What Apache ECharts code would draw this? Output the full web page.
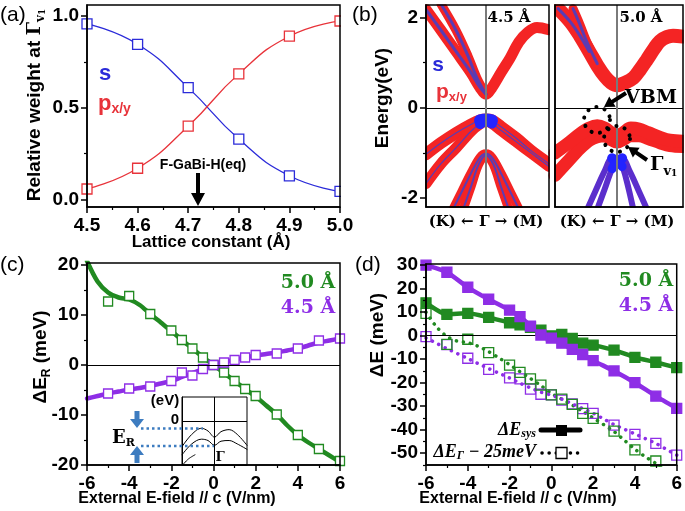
<!DOCTYPE html>
<html><head><meta charset="utf-8">
<script src="https://cdn.jsdelivr.net/npm/echarts/dist/echarts.min.js"></script>
<style>html,body{margin:0;padding:0;background:#fff}#c{width:685px;height:511px}</style>
</head><body><div id="c"></div>
<script>
// ---------- Panel (a) ----------
const latticeA = [4.5, 4.6, 4.7, 4.8, 4.9, 5.0];
const sWeight  = [0.957, 0.846, 0.61, 0.33, 0.13, 0.045];
const pWeight  = [0.058, 0.171, 0.40, 0.685, 0.89, 0.973];
const aXTicks = [4.5, 4.6, 4.7, 4.8, 4.9, 5.0];
const aXMinor = [4.55, 4.65, 4.75, 4.85, 4.95];
const aYTicks = [0, 0.5, 1.0];
const aYMinor = [0.25, 0.75];

// ---------- Panel (b) band structures (k: K<-Γ->M, Γ=0) ----------
const cb45a_k = [-1.0, -0.75, -0.5, -0.25, -0.1, 0, 0.1, 0.25, 0.4, 0.55, 0.7, 0.85, 1.05];
const cb45a_E = [2.18, 1.72, 1.25, 0.78, 0.45, 0.3, 0.45, 0.78, 1.1, 1.46, 1.68, 1.78, 1.73];
const cb45b_k = [-0.75, -0.5, -0.3, -0.15, 0];
const cb45b_E = [2.3, 1.72, 1.15, 0.66, 0.3];
const vb45a_k = [-1, -0.75, -0.5, -0.25, -0.1, 0, 0.1, 0.25, 0.5, 0.75, 1.05];
const vb45a_E = [-1.03, -0.78, -0.56, -0.37, -0.28, -0.26, -0.28, -0.42, -0.67, -0.95, -1.24];
const vb45b_k = [-1, -0.75, -0.5, -0.25, -0.1, 0, 0.1, 0.25, 0.5, 0.75, 1.05];
const vb45b_E = [-1.68, -1.24, -0.89, -0.52, -0.36, -0.3, -0.35, -0.5, -0.75, -1.0, -1.3];
const lb45a_k = [-0.55, -0.4, -0.25, -0.1, 0, 0.1, 0.25, 0.4, 0.55];
const lb45a_E = [-2.25, -1.85, -1.45, -1.1, -1.02, -1.1, -1.45, -1.85, -2.25];
const lb45b_k = [-0.38, -0.25, -0.12, 0, 0.12, 0.25, 0.38];
const lb45b_E = [-2.25, -1.75, -1.25, -1.05, -1.25, -1.75, -2.25];

const cb50a_k = [-0.95, -0.75, -0.6, -0.45, -0.32, -0.2, -0.1, 0, 0.12, 0.26, 0.37, 0.48, 0.6, 0.69, 0.8, 0.9, 1.06];
const cb50a_E = [2.2, 1.9, 1.6, 1.25, 0.94, 0.7, 0.56, 0.5, 0.55, 0.66, 0.85, 1.07, 1.32, 1.48, 1.57, 1.6, 1.58];
const cb50b_k = [-0.71, -0.6, -0.5, -0.4, -0.32];
const cb50b_E = [2.2, 1.85, 1.5, 1.2, 0.98];
const vb50a_k = [-1, -0.8, -0.6, -0.45, -0.32, -0.2, -0.1, 0, 0.1, 0.22, 0.35, 0.5, 0.7, 0.85, 1.06];
const vb50a_E = [-1.0, -0.8, -0.58, -0.45, -0.4, -0.45, -0.55, -0.62, -0.55, -0.45, -0.47, -0.55, -0.66, -0.72, -0.74];
const vb50b_k = [-1, -0.8, -0.6, -0.45, -0.32, -0.2, -0.1, 0, 0.1, 0.22, 0.35, 0.5, 0.7, 0.85, 1.06];
const vb50b_E = [-1.5, -1.2, -0.9, -0.72, -0.64, -0.62, -0.7, -0.76, -0.7, -0.62, -0.62, -0.68, -0.78, -0.84, -0.86];
const lb50a_k = [-0.48, -0.35, -0.2, -0.08, 0, 0.08, 0.2, 0.35, 0.48];
const lb50a_E = [-2.25, -1.85, -1.4, -1.12, -1.16, -1.12, -1.4, -1.85, -2.25];
const lb50b_k = [-0.32, -0.2, -0.08, 0, 0.08, 0.15, 0.26];
const lb50b_E = [-2.25, -1.8, -1.35, -1.2, -1.3, -1.6, -2.25];
const bYTicks = [-2, 0, 2];
const bYMinor = [-1, 1];

// ---------- Panel (c) ----------
const fieldC = [-5, -4, -3, -2, -1.5, -1, -0.5, 0, 0.5, 1, 1.5, 2, 3, 4, 5, 6];
const dER50  = [12.7, 13.8, 10.2, 6.9, 5.0, 3.3, 1.5, 0, -1.5, -3.2, -4.8, -6.2, -9.9, -14.0, -16.8, -19.2];
const dER45  = [-5.7, -4.7, -4.3, -3.2, -1.5, -2.1, -0.8, 0, 0.5, 1.0, 1.5, 2.0, 2.3, 3.3, 4.9, 5.3];
const fitFieldC = [-6, -5.5, -5, -4.5, -4, -3.5, -3, -2.5, -2, -1.5, -1, -0.5, 0, 0.5, 1, 1.5, 2, 2.5, 3, 3.5, 4, 4.5, 5, 5.5, 6];
const fitER50 = [20.8, 16.7, 14.5, 13.5, 13.1, 12.0, 10.2, 8.5, 6.8, 5.0, 3.3, 1.6, 0, -1.6, -3.2, -4.8, -6.3, -8.1, -9.9, -12.1, -14.0, -15.5, -16.8, -18.1, -19.4];
const fitER45 = [-6.7, -6.2, -5.7, -5.3, -4.9, -4.6, -4.2, -3.7, -3.2, -2.4, -1.6, -0.8, 0, 0.55, 1.1, 1.5, 1.9, 2.2, 2.5, 2.9, 3.3, 3.9, 4.5, 4.9, 5.3];
const cdXTicks = [-6, -4, -2, 0, 2, 4, 6];
const cdXMinor = [-5, -3, -1, 1, 3, 5];
const cYTicks = [-20, -10, 0, 10, 20];
const cYMinor = [-15, -5, 5, 15];
// inset of (c)
const insK  = [-1, -0.7, -0.4, -0.2, 0, 0.2, 0.45, 0.7, 1];
const insE1 = [-0.38, -0.2, -0.11, -0.15, -0.24, -0.16, -0.13, -0.2, -0.36];
const insE2 = [-0.5, -0.34, -0.27, -0.29, -0.36, -0.3, -0.29, -0.34, -0.42];
const insK3 = [-1, -0.8, -0.6];
const insE3 = [-0.66, -0.56, -0.5];

// ---------- Panel (d) ----------
const fieldD = [-6, -5, -4, -3, -2, -1.5, -1, -0.5, 0, 0.5, 1, 1.5, 2, 3, 4, 5, 6];
const sys45 = [30, 27, 20.6, 15.5, 10.9, 8.1, 4.1, 0.3, -1.0, -3.2, -5.8, -8.0, -10.6, -15.0, -20.0, -25.7, -30.9];
const sys50 = [14, 9.1, 9.5, 7.8, 5.5, 4.6, 3.6, 2.4, -0.1, 0.6, -1.1, -3.2, -4.0, -6.1, -9.2, -11.3, -13.6];
const gam50 = [9.5, -3.7, -1.5, -7.2, -12.5, -15.6, -18.4, -21, -25.2, -27, -29.2, -33, -35.2, -40.6, -48.6, -53.3, -58];
const gam45 = [-0.4, -3.8, -9.6, -14.3, -17.9, -18.4, -22.7, -24.9, -25.2, -27.4, -29, -31, -33, -38, -42, -45.8, -50.8];
const fitFieldD = [-6, -5.5, -5, -4.5, -4, -3.5, -3, -2.5, -2, -1.5, -1, -0.5, 0, 0.5, 1, 1.5, 2, 2.5, 3, 3.5, 4, 4.5, 5, 5.5, 6];
const gamFit50 = [10, 3.8, -0.3, -2.3, -3.0, -4.5, -6.8, -9.5, -12.3, -15.3, -18.2, -21.2, -24.5, -27, -29.5, -32.2, -35, -37.8, -40.8, -44.5, -48.3, -51.5, -54.3, -57.5, -61];
const gamFit45 = [-1, -3.2, -5.5, -7.6, -9.7, -11.9, -14.0, -16.0, -18.0, -20.2, -22.2, -24, -25.3, -27, -29, -31, -33, -35.4, -37.8, -39.8, -41.8, -43.8, -45.8, -48.3, -50.8];
const dYTicks = [-50, -40, -30, -20, -10, 0, 10, 20, 30];
const dYMinor = [-55, -45, -35, -25, -15, -5, 5, 15, 25];

// ---------- colours ----------
const GREEN = '#218a21', PURPLE = '#8e2ee6', BLUE = '#2b2bd9', RED = '#e8333a';
const FAT = '#f42424', CENTER = '#5a3cb4', SBLUE = '#2323ff', LOWP = '#5b2ecc';
const SANS = 'Liberation Sans', SERIF = 'DejaVu Serif', TIMES = 'Liberation Serif';

const zip = (a, b) => a.map((v, i) => [v, b[i]]);
const sub = (ks, es, f) => zip(ks, es).filter(p => f(p[0]));

// ---------- axes ----------
const xAxes = [], yAxes = [];
const lab = (show, fmt, margin) => ({show, color:'#000', fontFamily:SANS, fontWeight:'bold', fontSize:19, formatter: fmt, margin});
function addAxes(list, gi, pos, min, max, major, showLab, fmt, margin) {
  list.push({type:'value', gridIndex:gi, position:pos, min, max, z:10,
    axisLine:{show:true, onZero:false, lineStyle:{color:'#000', width:1.5}},
    axisTick:{show: major.length>0, customValues:major, length:6, lineStyle:{color:'#000', width:1.5}},
    axisLabel:Object.assign(lab(showLab, fmt, margin===undefined?5:margin), {customValues:major}),
    splitLine:{show:false}});
}
function addMinor(list, gi, pos, min, max, minor) {
  list.push({type:'value', gridIndex:gi, position:pos, min, max, z:10,
    axisLine:{show:false, onZero:false},
    axisTick:{show:true, customValues:minor, length:3, lineStyle:{color:'#000', width:1.2}},
    axisLabel:{show:false, customValues:minor}, splitLine:{show:false}});
}
const f1 = v => v.toFixed(1);
const B_MIN = -2.2, B_MAX = 2.28;
// main axes 0..5
addAxes(xAxes, 0, 'bottom', 4.5, 5.0, aXTicks, true, f1, 9);
addAxes(yAxes, 0, 'left', -0.04, 1.06, aYTicks, true, f1, 8);
addAxes(xAxes, 1, 'bottom', -1, 1.05, [], false);
addAxes(yAxes, 1, 'left', B_MIN, B_MAX, bYTicks, true, undefined, 8);
addAxes(xAxes, 2, 'bottom', -1, 1.06, [], false);
addAxes(yAxes, 2, 'left', B_MIN, B_MAX, [], false);
addAxes(xAxes, 3, 'bottom', -6, 6, cdXTicks, true, undefined, 9);
addAxes(yAxes, 3, 'left', -20, 20.4, cYTicks, true, undefined, 8);
addAxes(xAxes, 4, 'bottom', -6, 6, cdXTicks, true, undefined, 9);
addAxes(yAxes, 4, 'left', -55, 30.5, dYTicks, true, undefined, 8);
addAxes(xAxes, 5, 'bottom', -1, 1, [], false);
addAxes(yAxes, 5, 'left', -0.65, 0.35, [], false);
xAxes[5].axisLine.lineStyle.width = 1; yAxes[5].axisLine.lineStyle.width = 1;
xAxes[5].z = 4; yAxes[5].z = 4;
// minor tick axes
addMinor(xAxes, 0, 'bottom', 4.5, 5.0, aXMinor);
addMinor(yAxes, 0, 'left', -0.04, 1.06, aYMinor);
addMinor(yAxes, 1, 'left', B_MIN, B_MAX, bYMinor);
addMinor(xAxes, 3, 'bottom', -6, 6, cdXMinor);
addMinor(yAxes, 3, 'left', -20, 20.4, cYMinor);
addMinor(xAxes, 4, 'bottom', -6, 6, cdXMinor);
addMinor(yAxes, 4, 'left', -55, 30.5, dYMinor);

// ---------- series ----------
const series = [];
function ln(gi, data, color, width, extra) {
  const s = {type:'line', xAxisIndex:gi, yAxisIndex:gi, data, showSymbol:false, symbol:'none',
    smooth:0.35, silent:true, animation:false,
    lineStyle:{color, width, cap:'round', join:'round'}};
  return Object.assign(s, extra || {});
}
function refLine(gi, mlData, color, width, z) {
  series.push({type:'line', xAxisIndex:gi, yAxisIndex:gi, data:[], symbol:'none', silent:true, animation:false, z:z||5,
    markLine:{silent:true, symbol:'none', animation:false, label:{show:false},
      lineStyle:{color, width, type:'solid'}, data: mlData}});
}
function sq(gi, data, color, fill, size, z) {
  return {type:'scatter', xAxisIndex:gi, yAxisIndex:gi, data, symbol:'rect', symbolSize:size,
    itemStyle:{color:fill, borderColor:color, borderWidth:1.3, opacity:1}, silent:true, animation:false, z:z||4};
}
// (a)
series.push(ln(0, zip(latticeA, sWeight), BLUE, 1.3, {smooth:0.5}));
series.push(ln(0, zip(latticeA, pWeight), RED, 1.3, {smooth:0.5}));
series.push(sq(0, zip(latticeA, sWeight), BLUE, '#fff', 10));
series.push(sq(0, zip(latticeA, pWeight), RED, '#fff', 10));

// (b) left 4.5 Å
series.push(ln(1, zip(cb45a_k, cb45a_E), FAT, 11));
series.push(ln(1, zip(cb45b_k, cb45b_E), FAT, 9));
series.push(ln(1, zip(vb45a_k, vb45a_E), FAT, 12));
series.push(ln(1, zip(vb45b_k, vb45b_E), FAT, 11));
series.push(ln(1, zip(lb45a_k, lb45a_E), FAT, 9));
series.push(ln(1, zip(lb45b_k, lb45b_E), FAT, 9));
series.push(ln(1, sub(cb45a_k, cb45a_E, k => k <= 0), CENTER, 3));
series.push(ln(1, zip(cb45b_k, cb45b_E), CENTER, 3));
series.push(ln(1, zip(vb45a_k, vb45a_E), CENTER, 1.2));
series.push(ln(1, zip(vb45b_k, vb45b_E), CENTER, 1.2));
series.push(ln(1, zip(lb45a_k, lb45a_E), CENTER, 2));
series.push(ln(1, zip(lb45b_k, lb45b_E), CENTER, 2));
series.push(ln(1, sub(vb45a_k, vb45a_E, k => Math.abs(k) <= 0.15), SBLUE, 12));
series.push(ln(1, sub(vb45b_k, vb45b_E, k => Math.abs(k) <= 0.12), SBLUE, 10));
// (b) right 5.0 Å
series.push(ln(2, zip(cb50a_k, cb50a_E), FAT, 14));
series.push(ln(2, zip(cb50b_k, cb50b_E), FAT, 9));
series.push(ln(2, zip(vb50b_k, vb50b_E), FAT, 13));
series.push(ln(2, zip(vb50a_k, vb50a_E), FAT, 13));
series.push(ln(2, sub(cb50a_k, cb50a_E, k => k <= -0.45), CENTER, 3));
series.push(ln(2, zip(cb50b_k, cb50b_E), CENTER, 3));
series.push(ln(2, zip(lb50a_k, lb50a_E), LOWP, 6));
series.push(ln(2, zip(lb50b_k, lb50b_E), LOWP, 6));
series.push(ln(2, sub(lb50a_k, lb50a_E, k => Math.abs(k) <= 0.09), SBLUE, 10));
series.push(ln(2, sub(lb50b_k, lb50b_E, k => k >= -0.09 && k <= 0.09), SBLUE, 9));

refLine(1, [{yAxis:0}], '#000', 1, 6);
refLine(1, [{xAxis:0}], '#7a7a7a', 2, 6);
refLine(2, [{yAxis:0}], '#000', 1, 6);
refLine(2, [{xAxis:0}], '#7a7a7a', 2, 6);

// (c)
refLine(3, [{yAxis:0}], '#000', 1, 1);
series.push(ln(3, zip(fitFieldC, fitER50), GREEN, 4.5, {smooth:0.3}));
series.push(ln(3, zip(fitFieldC, fitER45), PURPLE, 4.5, {smooth:0.3}));
series.push(sq(3, zip(fieldC, dER50), GREEN, '#fff', 9));
series.push(sq(3, zip(fieldC, dER45), PURPLE, '#fff', 9));
// inset
refLine(5, [{yAxis:0}, {xAxis:0}], '#000', 1, 6);
series.push(ln(5, zip(insK, insE1), '#000', 1, {z:5}));
series.push(ln(5, zip(insK, insE2), '#000', 1, {z:5}));
series.push(ln(5, zip(insK3, insE3), '#000', 1, {z:5}));

// (d)
refLine(4, [{yAxis:0}], '#000', 1, 1);
const dotStyle = c => ({color:c, width:3.5, type:[0.1, 7], cap:'round'});
series.push(Object.assign(ln(4, zip(fitFieldD, gamFit50), GREEN, 3.5, {smooth:0.3}), {lineStyle:dotStyle(GREEN)}));
series.push(Object.assign(ln(4, zip(fitFieldD, gamFit45), PURPLE, 3.5, {smooth:0.3}), {lineStyle:dotStyle(PURPLE)}));
series.push(sq(4, zip(fieldD, gam45), PURPLE, 'rgba(255,255,255,0)', 10));
series.push(sq(4, zip(fieldD, gam50), GREEN, 'rgba(255,255,255,0)', 10));
series.push(ln(4, zip(fieldD, sys50), GREEN, 4.5, {smooth:0.2, z:5}));
series.push(ln(4, zip(fieldD, sys45), PURPLE, 4.5, {smooth:0.2, z:5}));
series.push(sq(4, zip(fieldD, sys50), GREEN, GREEN, 10, 6));
series.push(sq(4, zip(fieldD, sys45), PURPLE, PURPLE, 10, 6));

// ---------- graphic annotations ----------
function T(x, y, text, o) {
  o = o || {};
  const st = Object.assign({text, x:0, y:0, fill:o.fill||'#000', fontFamily:o.ff||SANS, fontWeight:o.fw||'bold',
    fontSize:o.fs||17, fontStyle:o.fst||'normal', align:o.align||'center', verticalAlign:'middle',
    textAlign:o.align||'center', textVerticalAlign:'middle'}, o.rich ? {rich:o.rich} : {});
  return {type:'text', x, y, rotation:o.rot||0, style:st, z:100, silent:true};
}
const g = [];
// white masks that trim the fat bands of (b) to their frames
const mask = (x, y, w, h) => ({type:'rect', z:5, silent:true, shape:{x, y, width:w, height:h}, style:{fill:'#fff'}});
g.push(mask(341, 0, 84.2, 213));
g.push(mask(420, 0, 265, 4.2));
g.push(mask(420, 207.8, 265, 6));
g.push(mask(549.8, 0, 4.4, 213));
g.push(mask(683.8, 0, 2, 213));

g.push(T(0, 15, '(a)', {fw:'normal', fs:21, align:'left'}));
g.push(T(352, 15, '(b)', {fw:'normal', fs:21, align:'left'}));
g.push(T(0, 265, '(c)', {fw:'normal', fs:21, align:'left'}));
g.push(T(355, 265, '(d)', {fw:'normal', fs:21, align:'left'}));

const rot = Math.PI / 2;
g.push(T(35, 105, '{m|Relative weight at }{g|Γ}{s|v}{ss|1}', {rot, rich:{
  m:{fontFamily:SANS, fontWeight:'bold', fontSize:19, lineHeight:24, verticalAlign:'middle'},
  g:{fontFamily:SERIF, fontWeight:'bold', fontSize:19, lineHeight:24, verticalAlign:'middle'},
  s:{fontFamily:SERIF, fontWeight:'bold', fontSize:12, lineHeight:24, verticalAlign:'bottom'},
  ss:{fontFamily:SERIF, fontWeight:'bold', fontSize:9, lineHeight:24, verticalAlign:'bottom'}}}));
g.push(T(211, 242, 'Lattice constant (Å)', {fs:17}));
g.push(T(105, 74, 's', {fill:BLUE, fs:22}));
g.push(T(98, 104, '{p|p}{s|x/y}', {fill:RED, align:'left', rich:{
  p:{fill:RED, fontFamily:SANS, fontWeight:'bold', fontSize:22, lineHeight:24, verticalAlign:'middle'},
  s:{fill:RED, fontFamily:SANS, fontWeight:'bold', fontSize:14, lineHeight:24, verticalAlign:'bottom'}}}));
g.push(T(203, 165, 'F-GaBi-H(eq)', {fs:14}));
g.push({type:'polygon', shape:{points:[[196,173],[200,173],[200,193],[205,193],[198,206],[191,193],[196,193]]}, style:{fill:'#000'}, z:100, silent:true});

// (b)
g.push(T(383, 98, 'Energy(eV)', {rot, fs:19}));
g.push(T(509, 18, '4.5 Å', {ff:SERIF, fs:15}));
g.push(T(641, 18, '5.0 Å', {ff:SERIF, fs:15}));
g.push(T(438, 65, 's', {fill:BLUE, fs:21}));
g.push(T(436, 92, '{p|p}{s|x/y}', {align:'left', rich:{
  p:{fill:RED, fontFamily:SANS, fontWeight:'bold', fontSize:21, lineHeight:24, verticalAlign:'middle'},
  s:{fill:RED, fontFamily:SANS, fontWeight:'bold', fontSize:13, lineHeight:24, verticalAlign:'bottom'}}}));
g.push(T(486, 222, '(K) ← Γ → (M)', {ff:SERIF, fs:15}));
g.push(T(617, 222, '(K) ← Γ → (M)', {ff:SERIF, fs:15}));
g.push(T(651, 98, 'VBM', {ff:SERIF, fs:19}));
g.push(T(650, 165, '{g|Γ}{s|v}{ss|1}', {align:'left', rich:{
  g:{fontFamily:SERIF, fontWeight:'bold', fontSize:19, lineHeight:24, verticalAlign:'middle'},
  s:{fontFamily:SERIF, fontWeight:'bold', fontSize:13, lineHeight:24, verticalAlign:'bottom'},
  ss:{fontFamily:SERIF, fontWeight:'bold', fontSize:9, lineHeight:26, verticalAlign:'bottom'}}}));
function arrow(x1, y1, x2, y2, w, hw, hl, color) {
  const dx = x2 - x1, dy = y2 - y1, L = Math.hypot(dx, dy), ux = dx / L, uy = dy / L, px = -uy, py = ux;
  const bx = x2 - ux * hl, by = y2 - uy * hl;
  return {type:'polygon', z:100, silent:true, style:{fill:color}, shape:{points:[
    [x1 + px*w/2, y1 + py*w/2], [bx + px*w/2, by + py*w/2], [bx + px*hw/2, by + py*hw/2], [x2, y2],
    [bx - px*hw/2, by - py*hw/2], [bx - px*w/2, by - py*w/2], [x1 - px*w/2, y1 - py*w/2]]}};
}
g.push(arrow(626, 93, 604, 107, 4, 12, 10, '#000'));
g.push(arrow(647, 160, 628, 147, 4, 12, 10, '#000'));
const dotCircle = (cx, cy, r) => ({type:'circle', z:100, silent:true, shape:{cx, cy, r},
  style:{fill:'none', stroke:'#000', lineWidth:4, lineDash:[0.1, 8.5], lineCap:'round'}});
g.push(dotCircle(597, 120, 13));
g.push(dotCircle(617, 139, 13));

// (c)
g.push(T(41, 357, '{m|ΔE}{s|R}{m| (meV)}', {rot, rich:{
  m:{fontFamily:SANS, fontWeight:'bold', fontSize:19, lineHeight:24, verticalAlign:'middle'},
  s:{fontFamily:SANS, fontWeight:'bold', fontSize:12, lineHeight:24, verticalAlign:'bottom'}}}));
g.push(T(177, 499, 'External E-field // c (V/nm)', {fs:16}));
g.push(T(308, 283, '5.0 Å', {ff:SERIF, fs:19, fill:GREEN}));
g.push(T(308, 308, '4.5 Å', {ff:SERIF, fs:19, fill:PURPLE}));
g.push(T(165, 401, '(eV)', {fs:15}));
g.push(T(175, 420, '0', {fs:15}));
g.push(T(220, 458, 'Γ', {ff:SERIF, fs:13}));
g.push(T(112, 438, '{e|E}{s|R}', {align:'left', rich:{
  e:{fontFamily:SERIF, fontWeight:'bold', fontSize:18, lineHeight:22, verticalAlign:'middle'},
  s:{fontFamily:SERIF, fontWeight:'bold', fontSize:11, lineHeight:22, verticalAlign:'bottom'}}}));
const LB = '#3d7cc0';
g.push({type:'line', z:100, silent:true, shape:{x1:141, y1:428.5, x2:203, y2:428.5}, style:{stroke:LB, lineWidth:2.5, lineDash:[2.5, 3]}});
g.push({type:'line', z:100, silent:true, shape:{x1:141, y1:446, x2:214, y2:446}, style:{stroke:LB, lineWidth:2.5, lineDash:[2.5, 3]}});
g.push(arrow(137, 411, 137, 428, 5, 14, 9, LB));
g.push(arrow(137, 463, 137, 446, 5, 14, 9, LB));

// (d)
g.push(T(378, 335, 'ΔE (meV)', {rot, fs:19}));
g.push(T(518, 499, 'External E-field // c (V/nm)', {fs:16}));
g.push(T(646, 281, '5.0 Å', {ff:SERIF, fs:19, fill:GREEN}));
g.push(T(646, 306, '4.5 Å', {ff:SERIF, fs:19, fill:PURPLE}));
g.push(T(536, 430, '{m|ΔE}{s|sys}', {align:'right', rich:{
  m:{fontFamily:TIMES, fontWeight:'bold', fontStyle:'italic', fontSize:18, lineHeight:20, verticalAlign:'middle'},
  s:{fontFamily:TIMES, fontWeight:'bold', fontStyle:'italic', fontSize:12, lineHeight:20, verticalAlign:'bottom'}}}));
g.push(T(536, 452, '{m|ΔE}{s|Γ}{m| − 25meV}', {align:'right', rich:{
  m:{fontFamily:TIMES, fontWeight:'bold', fontStyle:'italic', fontSize:18, lineHeight:20, verticalAlign:'middle'},
  s:{fontFamily:TIMES, fontWeight:'bold', fontStyle:'italic', fontSize:12, lineHeight:20, verticalAlign:'bottom'}}}));
g.push({type:'line', z:100, silent:true, shape:{x1:541, y1:430, x2:580, y2:430}, style:{stroke:'#000', lineWidth:5, lineCap:'round'}});
g.push({type:'rect', z:101, silent:true, shape:{x:556, y:425, width:11, height:11}, style:{fill:'#000'}});
g.push({type:'line', z:100, silent:true, shape:{x1:542, y1:453, x2:584, y2:453}, style:{stroke:'#000', lineWidth:3.5, lineDash:[0.1, 7], lineCap:'round'}});
g.push({type:'rect', z:101, silent:true, shape:{x:556, y:447.5, width:11, height:11}, style:{fill:'#fff', stroke:'#000', lineWidth:1.3}});

const grids = [
  {left:87, top:5, width:253, height:202},
  {left:426, top:5, width:123, height:202},
  {left:555, top:5, width:128, height:202},
  {left:87, top:263, width:253, height:202},
  {left:426, top:264, width:252, height:201},
  {left:182, top:397, width:65, height:68}
].map((gr, i) => Object.assign(gr, {show:true, borderColor:'#000', borderWidth:i === 5 ? 1 : 1.5,
  backgroundColor: i === 5 ? '#fff' : 'transparent', containLabel:false, z: i === 5 ? 3 : 10}));

const chart = echarts.init(document.getElementById('c'), null, {renderer:'canvas'});
chart.setOption({animation:false, backgroundColor:'#fff', grid:grids, xAxis:xAxes, yAxis:yAxes, series, graphic:g});
</script></body></html>
